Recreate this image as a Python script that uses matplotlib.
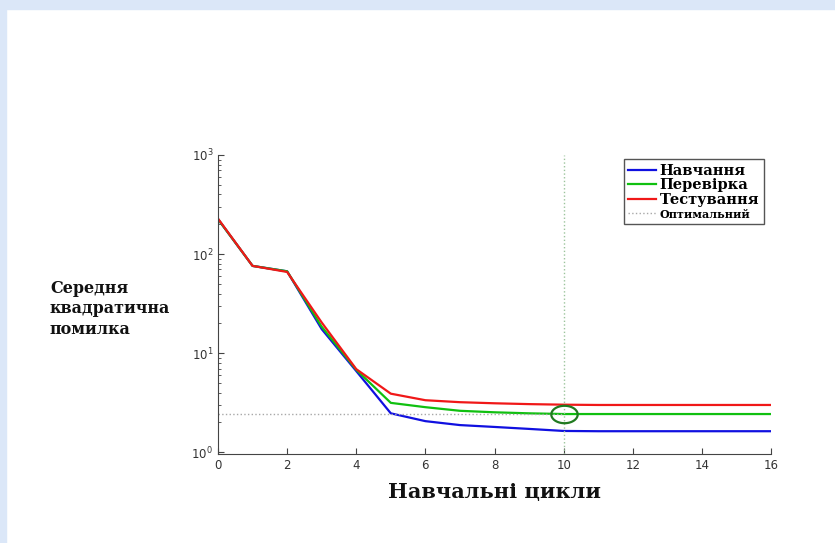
import numpy as np
import matplotlib.pyplot as plt
from matplotlib.patches import Rectangle

# Середньоквадратична помилка мережі по циклах навчання
epochs = list(range(17))
train = [225, 76, 67, 17.5, 6.6, 2.47, 2.06, 1.88, 1.80, 1.72, 1.64, 1.63, 1.63, 1.63, 1.63, 1.63, 1.63]
valid = [225, 76, 67, 18.5, 6.8, 3.15, 2.85, 2.62, 2.53, 2.47, 2.43, 2.43, 2.43, 2.43, 2.43, 2.43, 2.43]
test = [228, 76, 66, 20.4, 6.9, 3.9, 3.35, 3.2, 3.12, 3.06, 3.02, 3.0, 3.0, 3.0, 3.0, 3.0, 3.0]
best_epoch = 10
best_value = valid[best_epoch]

serif = ['DejaVu Serif']

fig = plt.figure(figsize=(8.35, 5.43), dpi=100)
fig.patch.set_facecolor('white')

# світло-блакитна рамка слайда
band = '#dbe7f8'
fig.add_artist(Rectangle((0, 1 - 9 / 543), 1, 9 / 543, transform=fig.transFigure, color=band, zorder=0))
fig.add_artist(Rectangle((0, 0), 6 / 835, 1, transform=fig.transFigure, color=band, zorder=0))

ax = fig.add_axes([218 / 835, 1 - 454 / 543, 553 / 835, 299 / 543])

ax.semilogy(epochs, train, color='#1010e0', lw=1.6, label='Навчання')
ax.semilogy(epochs, valid, color='#10c010', lw=1.6, label='Перевірка')
ax.semilogy(epochs, test, color='#f01818', lw=1.6, label='Тестування')
ax.plot([0, best_epoch], [best_value, best_value], color='#a8a8a8', lw=1, ls=':', label='Оптимальний')
ax.axvline(best_epoch, color='#9cc49c', lw=1, ls=':')

# еліптичний маркер оптимальної точки
t = np.linspace(0, 2 * np.pi, 60)
ellipse = np.column_stack([np.cos(t), 0.66 * np.sin(t)])
ax.plot([best_epoch], [best_value], marker=ellipse, ms=19, mfc='none', mec='#207a20', mew=1.6)

ax.set_xlim(0, 16)
ax.set_ylim(0.96, 1000)
ax.set_xticks(range(0, 17, 2))
ax.set_yticks([1, 10, 100, 1000])
ax.tick_params(which='both', direction='in', labelsize=8.5, labelcolor='#333333', color='#444444')
ax.tick_params(which='major', length=4)
ax.tick_params(which='minor', length=2)
ax.spines['top'].set_visible(False)
ax.spines['right'].set_visible(False)
for s in ('left', 'bottom'):
    ax.spines[s].set_color('#444444')

fig.text(50 / 835, 1 - 280 / 543, 'Середня\nквадратична\nпомилка', family=serif, fontweight='bold',
         fontsize=11.5, ha='left', va='top', linespacing=1.25, color='#111111')
fig.text(495 / 835, 1 - 492 / 543, 'Навчальні цикли', family=serif, fontweight='bold',
         fontsize=15, ha='center', va='center', color='#111111')

leg = ax.legend(loc='upper right', bbox_to_anchor=(1.0, 1.01), prop={'family': serif, 'weight': 'bold', 'size': 10.5},
                handlelength=1.9, handletextpad=0.25, labelspacing=0.05, borderpad=0.3,
                fancybox=False, framealpha=1, edgecolor='#555555')
leg.get_frame().set_linewidth(1.0)
leg.get_texts()[3].set_fontsize(8)

fig.savefig('out.png', dpi=100)
